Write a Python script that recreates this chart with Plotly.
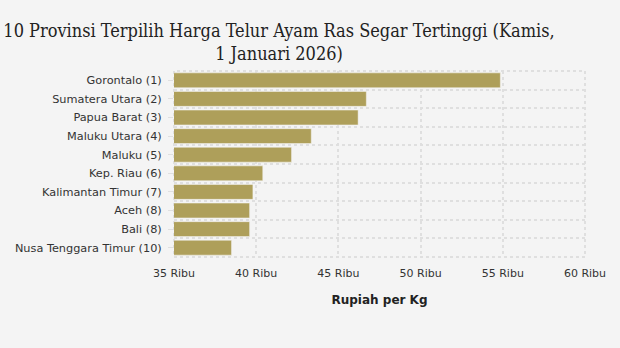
import plotly.graph_objects as go

# Harga telur ayam ras segar per provinsi (Rupiah per Kg)
provinsi = [
    "Gorontalo (1)",
    "Sumatera Utara (2)",
    "Papua Barat (3)",
    "Maluku Utara (4)",
    "Maluku (5)",
    "Kep. Riau (6)",
    "Kalimantan Timur (7)",
    "Aceh (8)",
    "Bali (8)",
    "Nusa Tenggara Timur (10)",
]
harga = [54850, 46700, 46200, 43350, 42150, 40400, 39800, 39600, 39600, 38500]

x_tickvals = [35000, 40000, 45000, 50000, 55000, 60000]
x_ticktext = ["35 Ribu", "40 Ribu", "45 Ribu", "50 Ribu", "55 Ribu", "60 Ribu"]

BG = "#f4f4f4"
GRID = "#dfdfdf"
BAR = "#ae9f5a"
TEXT = "#333333"
DASH = "3px,3px"

pos = list(range(len(provinsi)))
batas = [p - 0.5 for p in pos] + [pos[-1] + 0.5]

fig = go.Figure(
    go.Bar(
        x=harga,
        y=pos,
        orientation="h",
        width=0.8,
        marker=dict(color=BAR, line=dict(color="#f4f4f4", width=0.5)),
        hovertemplate="%{customdata}: Rp %{x:,}<extra></extra>",
        customdata=provinsi,
    )
)

fig.update_layout(
    width=620,
    height=348,
    paper_bgcolor=BG,
    plot_bgcolor=BG,
    margin=dict(l=174, r=35, t=71, b=91),
    showlegend=False,
    title=dict(
        text="10 Provinsi Terpilih Harga Telur Ayam Ras Segar Tertinggi (Kamis,<br>1 Januari 2026)",
        x=279 / 620,
        xanchor="center",
        y=0.895,
        yanchor="top",
        yref="container",
        font=dict(family="DejaVu Serif Condensed, DejaVu Serif, serif", size=18, color="#222222"),
    ),
    font=dict(family="DejaVu Sans, Verdana, sans-serif", size=11, color=TEXT),
    # dashed frame around the plotting area (edge gridlines)
    shapes=[
        dict(
            type="rect",
            xref="paper",
            yref="paper",
            x0=0,
            x1=1,
            y0=0,
            y1=1,
            line=dict(color=GRID, width=2, dash=DASH),
            fillcolor="rgba(0,0,0,0)",
            layer="below",
        )
    ],
)

fig.update_xaxes(
    range=[35000, 60000],
    tickvals=x_tickvals,
    ticktext=x_ticktext,
    showgrid=True,
    gridcolor=GRID,
    griddash=DASH,
    gridwidth=2,
    zeroline=False,
    showline=False,
    ticks="",
    ticklabelstandoff=8,
    tickfont=dict(size=11, color=TEXT),
    title=dict(text="<b>Rupiah per Kg</b>", font=dict(size=12, color="#222222"), standoff=16),
)

fig.update_yaxes(
    range=[len(provinsi) - 0.5, -0.5],
    tickvals=pos,
    ticktext=provinsi,
    showgrid=False,
    zeroline=False,
    showline=False,
    ticks="outside",
    ticklen=5,
    tickcolor=GRID,
    ticklabelstandoff=4,
    tickfont=dict(size=11.3, color=TEXT),
    minor=dict(
        tickvals=batas,
        showgrid=True,
        gridcolor=GRID,
        griddash=DASH,
        gridwidth=2,
        ticks="",
    ),
)

fig.write_html("out.html")
